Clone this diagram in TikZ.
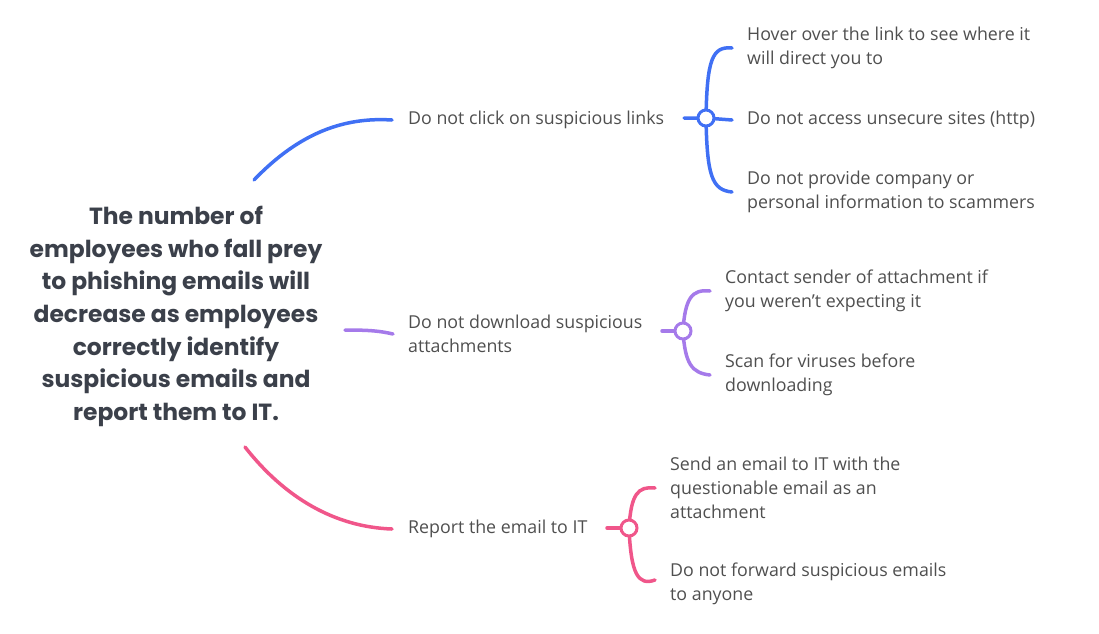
\documentclass[tikz,border=0pt]{standalone}
\usepackage{fontspec}
\setmainfont{Open Sans}
\newfontfamily\centerfont{Poppins}
\definecolor{cblue}{HTML}{4070F4}
\definecolor{cpurple}{HTML}{A57AEA}
\definecolor{cpink}{HTML}{F0568A}
\definecolor{ctext}{HTML}{4F4F4F}
\definecolor{ccenter}{HTML}{3B404A}
\pgfdeclarelayer{bg}
\pgfsetlayers{bg,main}
\begin{document}
\begin{tikzpicture}[x=1pt,y=-1pt,
 leaf/.style={anchor=west, inner sep=0, yshift=-2pt, align=left, text=ctext, font=\fontsize{17.8}{24}\selectfont},
 junction/.style={circle, draw=#1, fill=white, line width=3pt, minimum size=16pt, inner sep=0},
 conn/.style={line width=3.5pt, line cap=round}]
\useasboundingbox (0,0) rectangle (1099,633);

\node[text=ccenter, font=\centerfont\fontsize{23.4}{32.7}\selectfont\bfseries, align=center] (c) at (176,316.5)
 {The number of\\employees who fall prey\\to phishing emails will\\decrease as employees\\correctly identify\\suspicious emails and\\report them to IT.};
\coordinate (cb) at (254,180);
\coordinate (cp) at (345,330);
\coordinate (ck) at (245,447);

% blue branch
\node[leaf] (p1) at (408,118) {Do not click on suspicious links};
\node[junction=cblue] (j1) at (706,118) {};
\node[leaf] (l11) at (747,46) {Hover over the link to see where it\\will direct you to};
\node[leaf] (l12) at (747,118) {Do not access unsecure sites (http)};
\node[leaf] (l13) at (747,190) {Do not provide company or\\personal information to scammers};

% purple branch
\node[leaf] (p2) at (408,332) {Do not download suspicious\\attachments};
\node[junction=cpurple] (j2) at (683,331) {};
\node[leaf] (l21) at (725,289) {Contact sender of attachment if\\you weren't expecting it};
\node[leaf] (l22) at (725,373) {Scan for viruses before\\downloading};

% pink branch
\node[leaf] (p3) at (408,527) {Report the email to IT};
\node[junction=cpink] (j3) at (629,528) {};
\node[leaf] (l31) at (670,486) {Send an email to IT with the\\questionable email as an\\attachment};
\node[leaf] (l32) at (670,582) {Do not forward suspicious emails\\to anyone};

\begin{pgfonlayer}{bg}
\draw[conn,cblue] (cb) .. controls (300,132) and (345,117) .. ([xshift=-16pt]p1.west);
\draw[conn,cblue] ([xshift=-22pt]j1.center) -- (j1.center) -- ([xshift=-15pt]l12.west);
\draw[conn,cblue] (j1.center) .. controls (707,60) and (712,46) .. ([xshift=-15pt]l11.west);
\draw[conn,cblue] (j1.center) .. controls (707,176) and (712,190) .. ([xshift=-15pt]l13.west);

\draw[conn,cpurple] (cp) .. controls (370,330) and (380,331) .. ([xshift=-15pt]p2.west);
\draw[conn,cpurple] ([xshift=-21pt]j2.center) -- (j2.center);
\draw[conn,cpurple] (j2.center) .. controls (685,298) and (692,289) .. ([xshift=-15pt]l21.west);
\draw[conn,cpurple] (j2.center) .. controls (685,364) and (692,373) .. ([xshift=-15pt]l22.west);

\draw[conn,cpink] (ck) .. controls (285,498) and (335,527) .. ([xshift=-16pt]p3.west);
\draw[conn,cpink] ([xshift=-22pt]j3.center) -- (j3.center);
\draw[conn,cpink] (j3.center) .. controls (631,494) and (638,486) .. ([xshift=-15pt]l31.west);
\draw[conn,cpink] (j3.center) .. controls (631,574) and (638,586) .. ([xshift=-15pt,yshift=4pt]l32.west);
\end{pgfonlayer}
\end{tikzpicture}
\end{document}
